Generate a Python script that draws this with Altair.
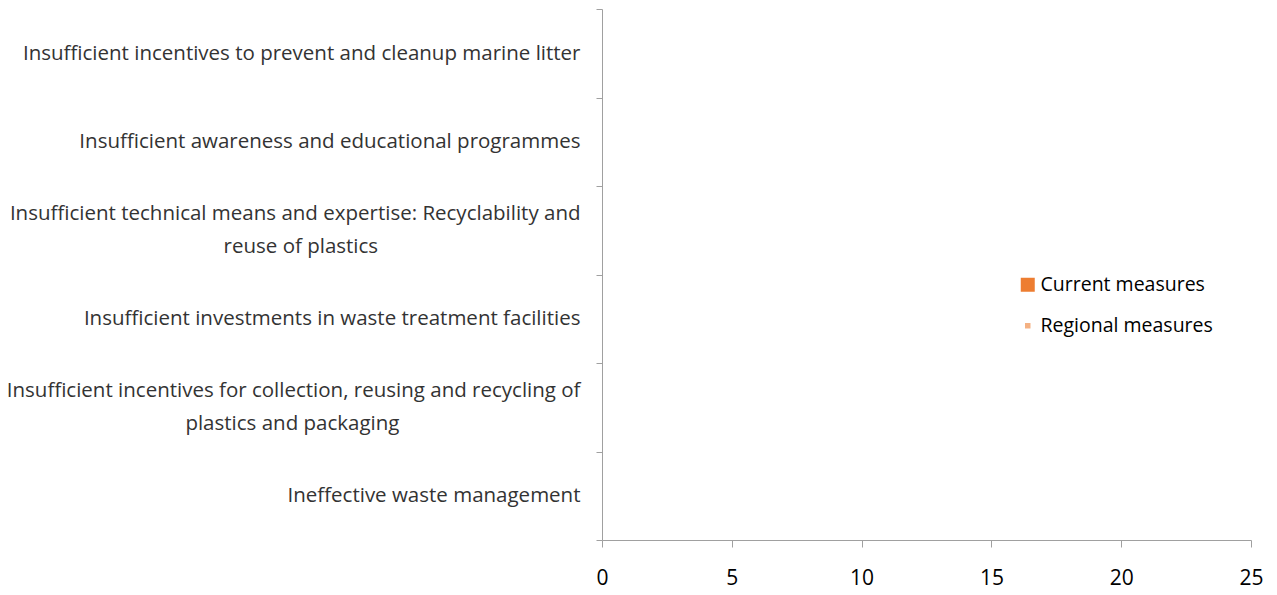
import altair as alt
import pandas as pd

NB = "\u00a0"
ZW = "\u200b"
BLANK = NB + ZW

categories = [
    "Insufficient incentives to prevent and cleanup marine litter",
    "Insufficient awareness and educational programmes",
    "Insufficient technical means and expertise: Recyclability and|reuse of plastics" + NB * 38 + ZW,
    "Insufficient investments in waste treatment facilities",
    "Insufficient incentives for collection, reusing and recycling of|plastics and packaging" + NB * 34 + ZW,
    "Ineffective waste management",
]
series = ["Current measures", "Regional measures"]
current_values = [0, 0, 0, 0, 0, 0]
regional_values = [0, 0, 0, 0, 0, 0]
x_ticks = [0, 5, 10, 15, 20, 25]

rows = []
for c, v in zip(categories, current_values):
    rows.append({"category": c, "series": series[0], "value": v})
for c, v in zip(categories, regional_values):
    rows.append({"category": c, "series": series[1], "value": v})
df = pd.DataFrame(rows)

FONT = "Open Sans"

# two-line labels: line, blank half-line, line; one-line labels: blank half-line, line
label_expr = (
    "indexof(datum.label, '|') >= 0 ? split(replace(datum.label, '|', '|" + BLANK + "|'), '|')"
    " : ['" + BLANK + "', datum.label]"
)

legend_kw = dict(title=None, orient="none", legendX=416, legendY=266,
                 labelFontSize=19.5, labelFont=FONT, labelColor="#000000",
                 symbolType="square", symbolStrokeWidth=0, labelLimit=400,
                 labelOffset=3, rowPadding=20)

chart = alt.Chart(df).mark_bar().encode(
    y=alt.Y("category:N", sort=categories, title=None,
            scale=alt.Scale(paddingInner=0, paddingOuter=0),
            axis=alt.Axis(labelExpr=label_expr, labelFontSize=20.5,
                          labelColor="#333333", labelFont=FONT, labelLineHeight=16.5,
                          labelLimit=700, tickBand="extent", tickSize=6,
                          labelPadding=16, domainColor="#A0A0A0", tickColor="#A0A0A0",
                          labelAlign="right", labelOffset=-16.5)),
    yOffset=alt.YOffset("series:N", sort=series),
    x=alt.X("value:Q", title=None,
            scale=alt.Scale(domain=[0, 25], nice=False),
            axis=alt.Axis(values=x_ticks, grid=False, labelFontSize=21, labelFont=FONT,
                          labelColor="#000000", tickSize=7, labelPadding=20,
                          labelFlush=False,
                          domainColor="#A0A0A0", tickColor="#A0A0A0")),
    color=alt.Color("series:O", sort=series,
                    scale=alt.Scale(domain=series, range=["#ED7D31", "#F4B183"]),
                    legend=alt.Legend(**legend_kw)),
    size=alt.Size("series:O", sort=series,
                  scale=alt.Scale(domain=series, range=[196, 30]),
                  legend=alt.Legend(**legend_kw)),
).properties(
    width=649, height=531,
    autosize=alt.AutoSizeParams(type="none"),
    padding={"left": 594, "top": 1, "right": 14, "bottom": 55},
).configure(font=FONT).configure_view(stroke=None)

chart.save("out.html", embed_options={"renderer": "svg", "actions": False})
